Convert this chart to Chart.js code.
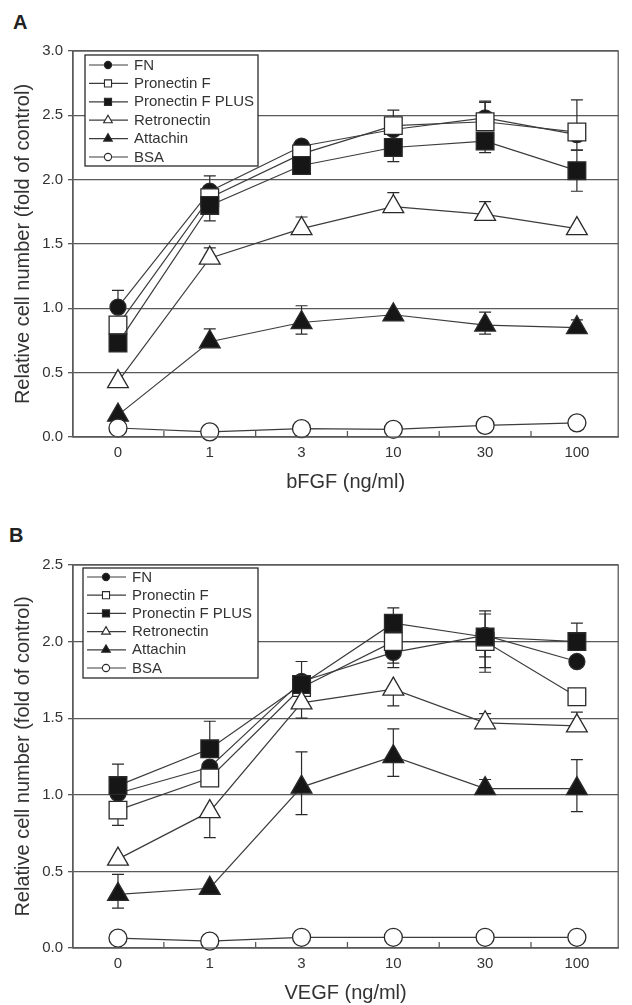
<!DOCTYPE html>
<html><head><meta charset="utf-8">
<script src="https://cdn.jsdelivr.net/npm/chart.js@4/dist/chart.umd.min.js"></script>
<style>
html,body{margin:0;padding:0;background:#fff;}
#wrap{position:relative;width:632px;height:1005px;overflow:hidden;}
.panel{position:absolute;left:0;width:632px;}
.lbl{position:absolute;font:bold 20px "Liberation Sans",Arial,sans-serif;color:#222;line-height:23px;}
</style></head><body>
<div id="wrap">
<div class="lbl" style="left:13px;top:11px">A</div>
<div class="lbl" style="left:9px;top:524px">B</div>
<div class="panel" style="top:0;height:500px"><canvas id="cA" width="632" height="500" style="width:632px;height:500px"></canvas></div>
<div class="panel" style="top:500px;height:505px"><canvas id="cB" width="632" height="505" style="width:632px;height:505px"></canvas></div>
</div>
<script>
// ---- categories / labels ----
const doses = ['0', '1', '3', '10', '30', '100'];
const seriesNames = ['FN', 'Pronectin F', 'Pronectin F PLUS', 'Retronectin', 'Attachin', 'BSA'];
const yTitle = 'Relative cell number (fold of control)';
const xTitleA = 'bFGF (ng/ml)';
const xTitleB = 'VEGF (ng/ml)';
const yMaxA = 3.0;
const yMaxB = 2.5;

// ---- Panel A (bFGF) values ----
const fnA  = [1.01, 1.91, 2.26, 2.39, 2.48, 2.35];
const pfA  = [0.87, 1.86, 2.20, 2.42, 2.45, 2.37];
const pfpA = [0.73, 1.80, 2.11, 2.25, 2.30, 2.07];
const retA = [0.43, 1.39, 1.62, 1.79, 1.73, 1.62];
const attA = [0.17, 0.74, 0.89, 0.95, 0.87, 0.85];
const bsaA = [0.07, 0.04, 0.065, 0.06, 0.09, 0.11];
// error bars (upper / lower)
const fnA_up  = [0.13, 0.12, 0, 0, 0.13, 0];
const fnA_dn  = [0, 0, 0, 0, 0, 0.12];
const pfA_up  = [0, 0, 0, 0.12, 0.15, 0.25];
const pfA_dn  = [0, 0, 0, 0, 0, 0];
const pfpA_up = [0, 0, 0, 0, 0, 0.16];
const pfpA_dn = [0, 0.12, 0, 0.11, 0.09, 0.16];
const retA_up = [0, 0.08, 0.09, 0.11, 0.10, 0];
const retA_dn = [0, 0, 0, 0, 0, 0];
const attA_up = [0, 0.10, 0.13, 0, 0.10, 0.06];
const attA_dn = [0, 0, 0.09, 0, 0.07, 0];
const bsaA_up = [0, 0, 0, 0, 0, 0];
const bsaA_dn = [0, 0, 0, 0, 0, 0];

// ---- Panel B (VEGF) values ----
const fnB  = [1.01, 1.18, 1.74, 1.93, 2.04, 1.87];
const pfB  = [0.90, 1.11, 1.70, 2.00, 2.00, 1.64];
const pfpB = [1.06, 1.30, 1.72, 2.12, 2.03, 2.00];
const retB = [0.58, 0.89, 1.60, 1.69, 1.47, 1.45];
const attB = [0.35, 0.39, 1.05, 1.25, 1.04, 1.04];
const bsaB = [0.065, 0.045, 0.07, 0.07, 0.07, 0.07];
const fnB_up  = [0, 0, 0.13, 0, 0.16, 0];
const fnB_dn  = [0, 0, 0, 0.07, 0.14, 0];
const pfB_up  = [0, 0, 0, 0, 0.18, 0];
const pfB_dn  = [0.10, 0, 0, 0.17, 0.17, 0];
const pfpB_up = [0.14, 0.18, 0, 0.10, 0, 0.12];
const pfpB_dn = [0, 0, 0, 0, 0.23, 0];
const retB_up = [0, 0, 0, 0, 0.06, 0.09];
const retB_dn = [0, 0.17, 0.10, 0.11, 0, 0];
const attB_up = [0.13, 0, 0.23, 0.18, 0.06, 0.19];
const attB_dn = [0.09, 0, 0.18, 0.13, 0, 0.15];
const bsaB_up = [0, 0, 0, 0, 0, 0];
const bsaB_dn = [0, 0, 0, 0, 0, 0];

// ---- styles ----
const FONT = '"Liberation Sans", Arial, Helvetica, sans-serif';
Chart.defaults.font.family = FONT;
Chart.defaults.color = '#333';
const INK = '#2a2a2a';
const GRID = '#5a5a5a';
const FILL = '#161616';
const markerStyles = [
  {style: 'circle',   filled: true,  r: 8,    lr: 3.6},
  {style: 'rect',     filled: false, r: 12.5, lr: 5},
  {style: 'rect',     filled: true,  r: 12.5, lr: 5},
  {style: 'triangle', filled: false, r: 12,   lr: 5},
  {style: 'triangle', filled: true,  r: 12,   lr: 5},
  {style: 'circle',   filled: false, r: 9,    lr: 3.6}
];
const drawOrder = [6, 5, 4, 3, 2, 1];

function makeDatasets(vals, ups, dns) {
  return vals.map((arr, k) => {
    const m = markerStyles[k];
    return {
      label: seriesNames[k],
      data: arr.map((v, i) => ({x: i, y: v})),
      errUp: ups[k], errDn: dns[k],
      legendR: m.lr,
      pointStyle: m.style,
      pointRadius: m.r,
      pointHoverRadius: m.r,
      pointBackgroundColor: m.filled ? FILL : '#ffffff',
      backgroundColor: m.filled ? FILL : '#ffffff',
      pointBorderColor: INK,
      pointBorderWidth: 1.3,
      borderColor: '#3c3c3c',
      borderWidth: 1.2,
      fill: false,
      tension: 0,
      clip: false,
      order: drawOrder[k]
    };
  });
}

function decorPlugin(leg) {
  return {
    id: 'decor',
    beforeDatasetsDraw(chart) {
      const ctx = chart.ctx, xs = chart.scales.x, ys = chart.scales.y;
      ctx.save();
      ctx.strokeStyle = INK; ctx.lineWidth = 1.2;
      chart.data.datasets.forEach(ds => {
        ds.data.forEach((p, i) => {
          const px = xs.getPixelForValue(p.x);
          const y0 = ys.getPixelForValue(p.y);
          [[ds.errUp[i], 1], [ds.errDn[i], -1]].forEach(([e, s]) => {
            if (!e) return;
            const y1 = ys.getPixelForValue(p.y + s * e);
            ctx.beginPath();
            ctx.moveTo(px, y0); ctx.lineTo(px, y1);
            ctx.moveTo(px - 6, y1); ctx.lineTo(px + 6, y1);
            ctx.stroke();
          });
        });
      });
      ctx.restore();
    },
    afterDatasetsDraw(chart) {
      const ctx = chart.ctx, ca = chart.chartArea, xs = chart.scales.x;
      ctx.save();
      // frame
      ctx.strokeStyle = GRID; ctx.lineWidth = 1.3;
      ctx.strokeRect(ca.left, ca.top, ca.right - ca.left, ca.bottom - ca.top);
      // inner boundary ticks
      for (let i = 0; i < doses.length - 1; i++) {
        const x = xs.getPixelForValue(i + 0.5);
        ctx.beginPath(); ctx.moveTo(x, ca.bottom); ctx.lineTo(x, ca.bottom - 6); ctx.stroke();
      }
      // inset legend
      const bx = ca.left + leg.dx, by = ca.top + leg.dy;
      ctx.fillStyle = '#ffffff';
      ctx.fillRect(bx, by, leg.w, leg.h);
      ctx.strokeStyle = INK; ctx.lineWidth = 1.3;
      ctx.strokeRect(bx, by, leg.w, leg.h);
      ctx.font = '15px ' + FONT;
      ctx.textBaseline = 'middle';
      ctx.textAlign = 'left';
      chart.data.datasets.forEach((ds, k) => {
        const y = by + leg.first + k * leg.step;
        ctx.strokeStyle = '#3c3c3c'; ctx.lineWidth = 1.2;
        ctx.beginPath(); ctx.moveTo(bx + 4, y); ctx.lineTo(bx + 43, y); ctx.stroke();
        ctx.fillStyle = ds.pointBackgroundColor;
        ctx.strokeStyle = INK; ctx.lineWidth = 1.1;
        Chart.helpers.drawPoint(ctx, {pointStyle: ds.pointStyle, radius: ds.legendR, rotation: 0, borderWidth: 1.1}, bx + 23, y);
        ctx.fillStyle = '#333';
        ctx.fillText(ds.label, bx + 49, y + 0.5);
      });
      ctx.restore();
    }
  };
}

function makeChart(id, datasets, yMax, xTitle, dims, leg) {
  return new Chart(document.getElementById(id), {
    type: 'line',
    data: {datasets},
    options: {
      responsive: false,
      animation: false,
      events: [],
      layout: {padding: {top: dims.top, right: 5, left: 0, bottom: 0}},
      plugins: {legend: {display: false}, tooltip: {enabled: false}},
      scales: {
        x: {
          type: 'linear', min: -0.49, max: 5.45,
          afterBuildTicks: s => { s.ticks = doses.map((d, i) => ({value: i})); },
          afterFit: s => { s.height = dims.xh; },
          grid: {display: false, drawTicks: false},
          border: {display: true, color: GRID, width: 1.3},
          ticks: {callback: v => doses[v], font: {size: 15}, color: '#333', padding: 7, maxRotation: 0, autoSkip: false},
          title: {display: true, text: xTitle, font: {size: 20}, color: '#333', padding: {top: 0, bottom: dims.xtp}}
        },
        y: {
          type: 'linear', min: 0, max: yMax,
          afterFit: s => { s.width = 73; },
          grid: {color: GRID, lineWidth: 1.3, tickLength: 5, drawTicks: true},
          border: {display: true, color: GRID, width: 1.3},
          ticks: {stepSize: 0.5, callback: v => v.toFixed(1), font: {size: 15}, color: '#333', padding: 5},
          title: {display: true, text: yTitle, font: {size: 20}, color: '#333', padding: {top: 11, bottom: 0}}
        }
      }
    },
    plugins: [decorPlugin(leg)]
  });
}

makeChart('cA',
  makeDatasets([fnA, pfA, pfpA, retA, attA, bsaA],
               [fnA_up, pfA_up, pfpA_up, retA_up, attA_up, bsaA_up],
               [fnA_dn, pfA_dn, pfpA_dn, retA_dn, attA_dn, bsaA_dn]),
  yMaxA, xTitleA, {top: 51, xh: 63, xtp: 6},
  {dx: 12, dy: 4, w: 173, h: 111, first: 10, step: 18.4});

makeChart('cB',
  makeDatasets([fnB, pfB, pfpB, retB, attB, bsaB],
               [fnB_up, pfB_up, pfpB_up, retB_up, attB_up, bsaB_up],
               [fnB_dn, pfB_dn, pfpB_dn, retB_dn, attB_dn, bsaB_dn]),
  yMaxB, xTitleB, {top: 65, xh: 57, xtp: 0},
  {dx: 10, dy: 3, w: 175, h: 110, first: 9, step: 18.2});
</script>
</body></html>
